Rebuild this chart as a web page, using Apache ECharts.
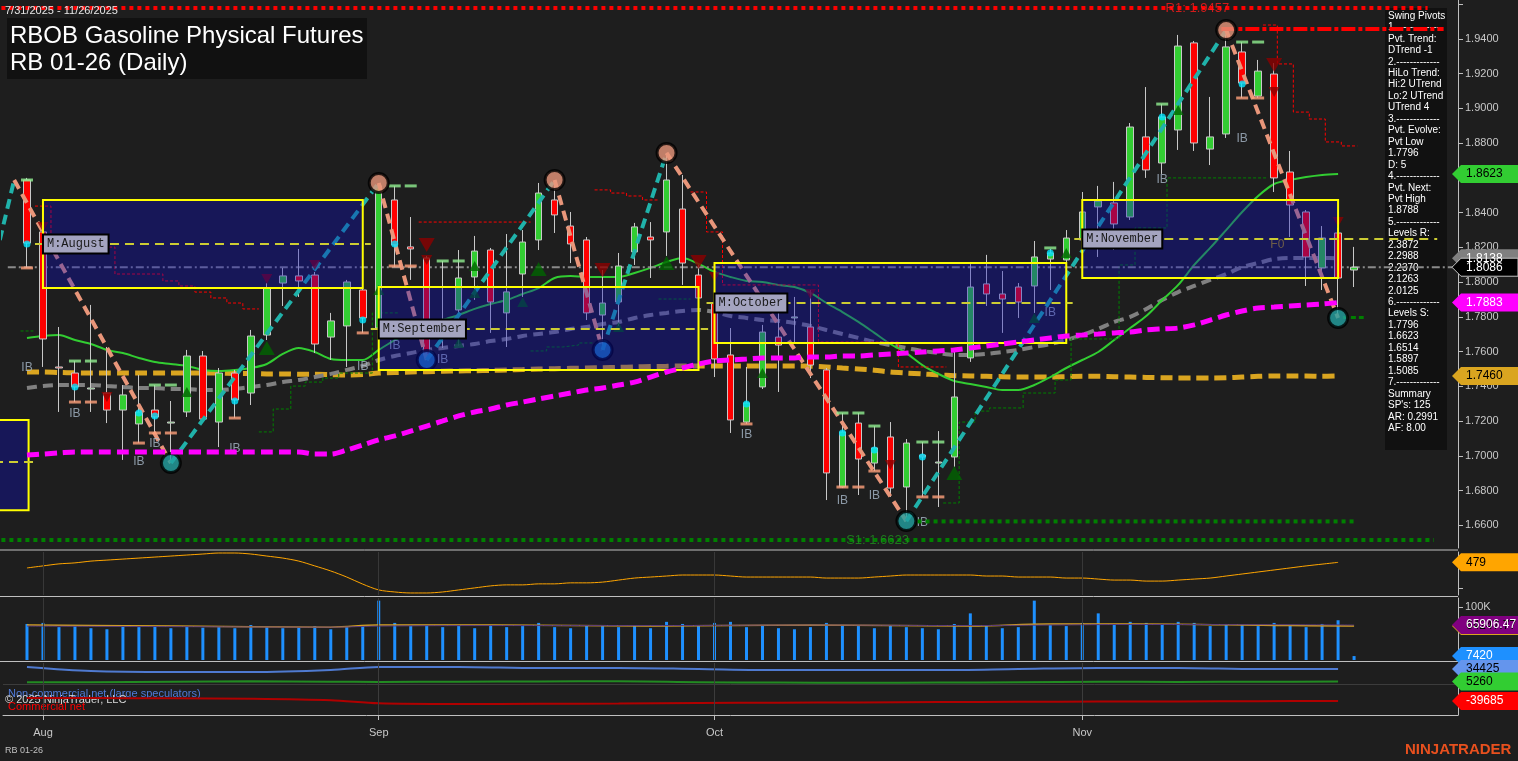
<!DOCTYPE html>
<html><head><meta charset="utf-8">
<script src="https://cdn.jsdelivr.net/npm/echarts@6/dist/echarts.min.js"></script>
<style>html,body{margin:0;padding:0;background:#1e1e1e;}#c{width:1518px;height:761px;}</style>
</head><body><div id="c"></div>
<script>
// ---------------- DATA ----------------
const dates = ['2025-07-31',
'2025-08-01','2025-08-04','2025-08-05','2025-08-06','2025-08-07','2025-08-08','2025-08-11','2025-08-12','2025-08-13','2025-08-14','2025-08-15','2025-08-18','2025-08-19','2025-08-20','2025-08-21','2025-08-22','2025-08-25','2025-08-26','2025-08-27','2025-08-28','2025-08-29',
'2025-09-02','2025-09-03','2025-09-04','2025-09-05','2025-09-08','2025-09-09','2025-09-10','2025-09-11','2025-09-12','2025-09-15','2025-09-16','2025-09-17','2025-09-18','2025-09-19','2025-09-22','2025-09-23','2025-09-24','2025-09-25','2025-09-26','2025-09-29','2025-09-30',
'2025-10-01','2025-10-02','2025-10-03','2025-10-06','2025-10-07','2025-10-08','2025-10-09','2025-10-10','2025-10-13','2025-10-14','2025-10-15','2025-10-16','2025-10-17','2025-10-20','2025-10-21','2025-10-22','2025-10-23','2025-10-24','2025-10-27','2025-10-28','2025-10-29','2025-10-30','2025-10-31',
'2025-11-03','2025-11-04','2025-11-05','2025-11-06','2025-11-07','2025-11-10','2025-11-11','2025-11-12','2025-11-13','2025-11-14','2025-11-17','2025-11-18','2025-11-19','2025-11-20','2025-11-21','2025-11-24','2025-11-25','2025-11-26'];

// [open, close, low, high]
const candles = [
[1.8588,1.8225,1.8082,1.8600],[1.8289,1.7673,1.7512,1.8312],[1.7512,1.7506,1.7253,1.7742],[1.7477,1.7397,1.7310,1.7546],[1.7385,1.7391,1.7253,1.7869],
[1.7362,1.7264,1.7189,1.7627],[1.7264,1.7351,1.6977,1.7408],[1.7184,1.7253,1.7074,1.7466],[1.7264,1.7224,1.7132,1.7408],[1.7189,1.7195,1.6959,1.7316],
[1.7253,1.7575,1.7224,1.7610],[1.7575,1.7212,1.7201,1.7604],[1.7195,1.7477,1.7051,1.7506],[1.7477,1.7322,1.7218,1.7495],[1.7362,1.7690,1.7293,1.7725],
[1.7696,1.7966,1.7667,1.7995],[1.7995,1.8036,1.7863,1.8082],[1.8036,1.8007,1.7915,1.8191],[1.8041,1.7644,1.7592,1.8059],[1.7684,1.7777,1.7552,1.7823],
[1.7748,1.8001,1.7512,1.8013],[1.7955,1.7794,1.7708,1.7966],[1.7736,1.8554,1.7713,1.8571],[1.8473,1.8214,1.8087,1.8554],[1.8203,1.8191,1.8013,1.8375],
[1.8139,1.7581,1.7552,1.8151],[1.7771,1.7736,1.7621,1.8122],[1.7840,1.8024,1.7633,1.8185],[1.8030,1.8179,1.7898,1.8266],[1.8185,1.7886,1.7708,1.8197],
[1.7823,1.7944,1.7627,1.8277],[1.8047,1.8231,1.7915,1.8300],[1.8243,1.8513,1.8185,1.8571],[1.8473,1.8387,1.8283,1.8588],[1.8323,1.8220,1.8110,1.8404],
[1.8243,1.7823,1.7782,1.8260],[1.7811,1.7880,1.7610,1.8070],[1.7886,1.8093,1.7748,1.8168],[1.8174,1.8318,1.8099,1.8341],[1.8260,1.8243,1.8024,1.8346],
[1.8289,1.8588,1.8151,1.8744],[1.8421,1.8110,1.7984,1.8617],[1.8041,1.7909,1.7869,1.8099],[1.7880,1.7558,1.7454,1.7984],[1.7581,1.7207,1.7132,1.7736],
[1.7195,1.7305,1.7184,1.7512],[1.7397,1.7713,1.7385,1.7754],[1.7684,1.7638,1.7368,1.7880],[1.7794,1.7800,1.7650,1.7915],[1.7742,1.7523,1.7448,1.7955],
[1.7495,1.6902,1.6746,1.7506],[1.6821,1.7138,1.6815,1.7247],[1.7189,1.6982,1.6775,1.7247],[1.6959,1.7046,1.6913,1.7172],[1.7109,1.6815,1.6764,1.7195],
[1.6821,1.7074,1.6625,1.7097],[1.7005,1.6994,1.6764,1.7080],[1.6959,1.6965,1.6706,1.7143],[1.6994,1.7339,1.6936,1.7615],[1.7564,1.7972,1.7541,1.8110],
[1.7990,1.7932,1.7863,1.8157],[1.7932,1.7903,1.7708,1.8064],[1.7972,1.7886,1.7794,1.7995],[1.7978,1.8145,1.7823,1.8237],[1.8133,1.8168,1.7955,1.8191],
[1.8128,1.8254,1.8116,1.8300],[1.8243,1.8404,1.8157,1.8519],[1.8433,1.8467,1.8145,1.8554],[1.8456,1.8335,1.8185,1.8577],[1.8375,1.8893,1.8358,1.8916],
[1.8836,1.8646,1.8600,1.9123],[1.8686,1.8951,1.8623,1.9025],[1.8876,1.9359,1.8761,1.9423],[1.9377,1.8801,1.8755,1.9388],[1.8766,1.8836,1.8674,1.9066],
[1.8853,1.9354,1.8830,1.9457],[1.9325,1.9146,1.9060,1.9382],[1.9071,1.9215,1.9060,1.9279],[1.9198,1.8600,1.8519,1.9261],[1.8634,1.8444,1.8260,1.8755],
[1.8404,1.8145,1.7978,1.8415],[1.8082,1.8254,1.7955,1.8323],[1.8283,1.8024,1.7796,1.8312],[1.8070,1.8086,1.7972,1.8203]];

const maGreen = [1.7679,1.7690,1.7696,1.7667,1.7644,1.7610,1.7592,1.7564,1.7540,1.7529,
1.7518,1.7495,1.7489,1.7495,1.7506,1.7529,1.7587,1.7621,1.7598,1.7558,
1.7552,1.7552,1.7610,1.7667,1.7708,1.7742,1.7782,1.7811,1.7846,1.7874,
1.7897,1.7932,1.7966,1.8024,1.8035,1.8030,1.8030,1.8030,1.8053,1.8082,
1.8116,1.8139,1.8105,1.8059,1.8030,1.8007,1.8001,1.7984,1.7972,1.7938,
1.7880,1.7828,1.7771,1.7708,1.7644,1.7592,1.7523,1.7472,1.7431,1.7414,
1.7397,1.7379,1.7379,1.7408,1.7454,1.7506,1.7552,1.7598,1.7667,1.7736,
1.7805,1.7897,1.7984,1.8099,1.8197,1.8300,1.8404,1.8496,1.8565,1.8588,
1.8605,1.8617,1.8623];

const maGold = [1.7483,1.7483,1.7480,1.7478,1.7477,1.7477,1.7477,1.7477,1.7477,1.7477,1.7477,
1.7477,1.7477,1.7475,1.7474,1.7472,1.7472,1.7470,1.7470,1.7468,1.7466,1.7468,
1.7477,1.7480,1.7483,1.7485,1.7487,1.7489,1.7490,1.7492,1.7495,1.7497,1.7500,
1.7502,1.7504,1.7506,1.7508,1.7510,1.7512,1.7514,1.7516,1.7518,1.7518,1.7518,
1.7518,1.7518,1.7518,1.7518,1.7518,1.7516,1.7512,1.7506,1.7500,1.7493,1.7483,
1.7477,1.7472,1.7466,1.7462,1.7460,1.7458,1.7456,1.7454,1.7454,1.7454,1.7456,
1.7458,1.7458,1.7456,1.7454,1.7452,1.7450,1.7449,1.7449,1.7449,1.7450,1.7454,
1.7458,1.7460,1.7460,1.7460,1.7458,1.7460];

const maMagenta = [1.7005,1.7011,1.7017,1.7023,1.7023,1.7023,1.7023,1.7023,1.7023,1.7023,
1.7023,1.7023,1.7023,1.7023,1.7023,1.7023,1.7023,1.7023,1.7011,1.7011,
1.7034,1.7063,1.7092,1.7115,1.7143,1.7172,1.7201,1.7230,1.7253,1.7270,
1.7293,1.7310,1.7328,1.7345,1.7362,1.7379,1.7391,1.7408,1.7425,1.7454,
1.7483,1.7506,1.7529,1.7546,1.7552,1.7558,1.7564,1.7564,1.7564,1.7569,
1.7569,1.7575,1.7575,1.7581,1.7587,1.7592,1.7598,1.7604,1.7610,1.7621,
1.7633,1.7644,1.7656,1.7667,1.7679,1.7690,1.7696,1.7702,1.7708,1.7713,
1.7725,1.7731,1.7736,1.7754,1.7782,1.7811,1.7834,1.7851,1.7857,1.7863,
1.7869,1.7874,1.7883];

const maGrey = [1.7391,1.7402,1.7408,1.7408,1.7408,1.7402,1.7397,1.7391,1.7391,1.7385,
1.7385,1.7379,1.7379,1.7385,1.7397,1.7408,1.7425,1.7437,1.7454,1.7472,
1.7495,1.7518,1.7552,1.7575,1.7592,1.7610,1.7621,1.7633,1.7644,1.7661,
1.7673,1.7690,1.7702,1.7713,1.7731,1.7742,1.7759,1.7771,1.7794,1.7811,
1.7823,1.7834,1.7840,1.7828,1.7805,1.7794,1.7782,1.7777,1.7765,1.7748,
1.7725,1.7702,1.7679,1.7656,1.7638,1.7621,1.7604,1.7592,1.7581,1.7581,
1.7587,1.7598,1.7610,1.7627,1.7644,1.7667,1.7696,1.7731,1.7771,1.7800,
1.7846,1.7897,1.7943,1.7978,1.8013,1.8047,1.8087,1.8110,1.8133,1.8139,
1.8139,1.8139,1.8138];

// monthly boxes (x in slot units: slot = bar index + 1)
const boxNames  = ['', 'M:August', 'M:September', 'M:October', 'M:November'];
const boxFrom   = [-1.5, 2, 23, 44, 67];
const boxTo     = [1.1, 22, 43, 66, 83];
const boxTop    = [1.7207, 1.8473, 1.7972, 1.8110, 1.8473];
const boxBottom = [1.6687, 1.7966, 1.7495, 1.7650, 1.8024];
const boxMid    = [1.6965, 1.8220, 1.7731, 1.7880, 1.8249];
const boxMidEnd = [1.4, 22.5, 43.6, 66.4, 89.2];

// swing pivots [slot, price]
const swingPts = [[-0.7,1.8243],[0.2,1.8588],[10,1.6959],[23,1.8571],[26,1.7552],[34,1.8588],[37,1.7610],[41,1.8744],[56,1.6625],[76,1.9451],[83,1.7794]];
const swingHighs = [[23,1.8571],[34,1.8588],[41,1.8744],[76,1.9451]];
const swingLowsBlue = [[26,1.7552],[37,1.7610]];
const swingLowsTeal = [[10,1.6959],[56,1.6625],[83,1.7794]];

// stepped trailing levels [fromSlot, toSlot, price]
const redSteps = [[1.5,2.5,1.8438],[2.5,6.5,1.8202],[6.5,9.5,1.8047],[9.5,10.5,1.8007],[10.5,11.5,1.7978],[11.5,12.5,1.7943],[12.5,13.5,1.7909],[13.5,14.5,1.7880],[14.5,15.5,1.7846],
[25.5,32.5,1.8346],
[36.5,37.5,1.8531],[37.5,38.5,1.8513],[38.5,39.5,1.8496],[39.5,40.5,1.8473],
[42.5,43.5,1.8519],[43.5,44.5,1.8289],[44.5,50.5,1.7984],[50.5,55.5,1.7656],[55.5,58.5,1.7512],
[78.3,79.2,1.9480],[79.2,80.2,1.9256],[80.2,81.2,1.8979],[81.2,82.2,1.8939],[82.2,83.2,1.8807],[83.2,84.2,1.8784]];
const greenSteps = [[0.6,1.4,1.7719],
[15.5,16.4,1.7138],[16.4,17.5,1.7270],[17.5,18.4,1.7402],[18.4,19.5,1.7425],[19.5,20.5,1.7448],[20.5,22.6,1.7477],[22.6,24.3,1.7823],
[32.5,33.5,1.7604],[33.5,34.5,1.7627],[34.5,35.5,1.7638],[35.5,36.5,1.7650],
[40.5,42.5,1.7903],
[58.3,59.3,1.6729],[59.3,60.3,1.7195],[60.3,61.2,1.7258],[61.2,63.3,1.7276],[63.3,65.3,1.7362],[65.3,66.3,1.7437],[66.3,69.3,1.7673],[69.3,70.3,1.8099],[70.3,72.3,1.8312],[72.3,78.5,1.8600]];

// horizontal levels
const r1Level = 1.9578, swingHighLevel = 1.9457, s1Level = 1.6516, swingLowLevel = 1.6623, pvtLowLevel = 1.7796;

// markers [slot, price]
const triUpSmall = [[23,1.7955],[29,1.8093],[32,1.7886],[28,1.7650],[29,1.7938],[38,1.7742],[11,1.7368],[47,1.7477],[64,1.7794],[66,1.8168],[73,1.8991]];
const triUpBig = [[33,1.8076],[41,1.8110],[16,1.7621],[59,1.6902]];
const triDownSmall = [[6,1.7339],[16,1.8018],[19,1.8099],[2,1.8318],[26,1.8128],[44,1.8030],[50,1.7932],[55,1.6948],[79,1.9095],[83,1.8346]];
const triDownBig = [[26,1.8214],[37,1.8070],[43,1.8116],[79,1.9250]];
const cyanDots = [[1,1.8220],[4,1.7397],[8,1.7247],[9,1.7230],[14,1.7316],[22,1.7782],[24,1.8220],[46,1.7299],[52,1.7132],[54,1.7034],[57,1.6994],[65,1.8168],[72,1.8951],[77,1.9141]];
const hiDashes = [[1,1.8588],[4,1.7546],[5,1.7546],[9,1.7408],[10,1.7408],[24,1.8554],[25,1.8554],[27,1.8122],[28,1.8122],[52,1.7247],[53,1.7247],[54,1.7172],[57,1.7080],[58,1.7080],[65,1.8197],[72,1.9025],[77,1.9382],[78,1.9382]];
const loDashes = [[1,1.8082],[4,1.7310],[5,1.7310],[8,1.7074],[9,1.7132],[10,1.7132],[14,1.7218],[22,1.7708],[24,1.8093],[25,1.8093],[46,1.7184],[52,1.6821],[53,1.6821],[54,1.6913],[57,1.6764],[58,1.6764],[77,1.9060],[78,1.9060]];
const ibLabels = [[1,1.7506],[4,1.7241],[8,1.6965],[9,1.7069],[14,1.7040],[22,1.7512],[24,1.7633],[27,1.7552],[46,1.7120],[52,1.6741],[54,1.6769],[57,1.6614],[72,1.8588],[77,1.8824],[65,1.7823]];
const f0Label = [[79.2,1.8214]];

// price axis ticks
const priceTicks = [1.66,1.68,1.70,1.72,1.74,1.76,1.78,1.80,1.82,1.84,1.86,1.88,1.90,1.92,1.94];

// sub panel 1 (oscillator)
const osc = [457,465,473,477,484,488,492,496,500,504,508,512,516,516,512,504,496,484,465,445,
421,393,370,362,358,358,362,370,378,386,390,390,394,394,398,398,401,409,417,421,
425,429,429,429,425,421,421,421,421,421,417,417,417,421,425,429,429,429,429,429,
425,425,421,421,421,417,417,413,409,409,405,405,409,413,417,425,433,441,449,457,
465,472,479];

// sub panel 2 (volume)
const volume = [68000,70000,62000,64000,60000,58000,66000,62000,64000,60000,
63000,61000,62000,60000,66000,62000,60000,61000,64000,58000,
62000,66000,112000,70000,64000,66000,62000,64000,60000,66000,
62000,64000,70000,62000,60000,66000,64000,62000,66000,60000,
72000,68000,64000,70000,72000,62000,66000,60000,58000,62000,
70000,66000,64000,60000,66000,62000,60000,58000,68000,88000,
64000,60000,62000,112000,66000,64000,70000,88000,66000,72000,
70000,68000,72000,70000,64000,68000,66000,64000,70000,66000,
62000,68000,75000,7420];
const volAvgSlots = [1,10,20,23,30,40,50,60,65,70,80,84];
const volAvgGold = [66000,64000,62000,66000,66000,64000,66000,64000,68000,68000,65000,64247.77];
const volAvgPurple = [64000,63000,62000,64000,65000,65000,66000,65000,66000,67000,66500,65906.47];

// sub panel 3 (COT)
const cotSlots = [1,5,10,15,20,23,28,33,38,43,48,53,58,63,68,73,78,83];
const cotNonComm = [39057,29793,27477,27477,32109,39057,39057,36741,36741,34425,32109,32109,32109,34425,36741,36741,34425,34425];
const cotSmall = [4000,3500,5000,6000,5000,4500,5000,5500,6000,4000,3000,2500,3000,4000,5000,4500,5000,5260];
const cotComm = [-32700,-32700,-33500,-34500,-38000,-45000,-46600,-46000,-45500,-44000,-43500,-43000,-42000,-41500,-41000,-40500,-40000,-39685];

const infoLines = ['Swing Pivots','1.-------------','Pvt. Trend:','DTrend -1','2.-------------','HiLo Trend:','Hi:2 UTrend','Lo:2 UTrend','UTrend 4','3.-------------','Pvt. Evolve:','Pvt Low','1.7796','D: 5','4.-------------','Pvt. Next:','Pvt High','1.8788','5.-------------','Levels R:','2.3872','2.2988','2.2370','2.1263','2.0125','6.-------------','Levels S:','1.7796','1.6623','1.6514','1.5897','1.5085','7.-------------','Summary',"SP's: 125",'AR: 0.2991','AF: 8.00'];

// ---------------- BUILD ----------------
const NSLOT = 91;
const cats = ['_p0'].concat(dates);
while (cats.length < NSLOT) cats.push('_p' + cats.length);
const monthNames = ['Jan','Feb','Mar','Apr','May','Jun','Jul','Aug','Sep','Oct','Nov','Dec'];
const monthStart = {};
for (let k = 1; k < dates.length; k++) {
  if (dates[k].slice(5,7) !== dates[k-1].slice(5,7)) monthStart[k+1] = monthNames[+dates[k].slice(5,7)-1];
}
const padSlots = arr => ['-'].concat(arr);
const FONT = '"Liberation Sans", Arial, sans-serif';

function stepRuns(steps) {
  const runs = []; let cur = null;
  steps.forEach(s => {
    if (cur && Math.abs(cur.end - s[0]) < 0.01) { cur.pts.push([s[0], s[2]], [s[1], s[2]]); cur.end = s[1]; }
    else { cur = {end: s[1], pts: [[s[0], s[2]], [s[1], s[2]]]}; runs.push(cur); }
  });
  return runs.map(r => r.pts);
}

const series = [];
series.push({
  type: 'candlestick', xAxisIndex: 0, yAxisIndex: 0, z: 3, barWidth: 7,
  data: candles.map((c, i) => [i + 1, c[0], c[1], c[2], c[3]]),
  encode: {x: 0, y: [1, 2, 3, 4]},
  itemStyle: {color: '#32cd32', color0: '#ff0000', borderColor: '#c8c8c8', borderColor0: '#c8c8c8', borderWidth: 1}
});
const maLine = (data, color, width, type, z) => ({
  type: 'line', xAxisIndex: 0, yAxisIndex: 0, data: padSlots(data), symbol: 'none', smooth: 0.3, z: z || 3,
  lineStyle: {color: color, width: width, type: type}
});
series.push(maLine(maGold, '#daa520', 5, [12, 6]));
series.push(maLine(maGrey, '#808080', 4, [10, 6]));
series.push(maLine(maGreen, '#32cd32', 2, 'solid'));
stepRuns(redSteps).forEach(pts => series.push({type: 'line', xAxisIndex: 1, yAxisIndex: 0, data: pts, symbol: 'none', z: 3, lineStyle: {color: '#ff0000', width: 1, type: [3, 2]}}));
stepRuns(greenSteps).forEach(pts => series.push({type: 'line', xAxisIndex: 1, yAxisIndex: 0, data: pts, symbol: 'none', z: 3, lineStyle: {color: '#008000', width: 1, type: [3, 2]}}));
series.push({type: 'line', xAxisIndex: 1, yAxisIndex: 0, symbol: 'none', z: 3,
  data: [[-0.2, candles[candles.length-1][1]], [90.5, candles[candles.length-1][1]]],
  lineStyle: {color: '#8a8a8a', width: 2, type: [8, 3, 2, 3]}});
for (let k = 0; k < swingPts.length - 1; k++) {
  const up = swingPts[k+1][1] > swingPts[k][1];
  series.push({type: 'line', xAxisIndex: 1, yAxisIndex: 0, symbol: 'none', z: 4,
    data: [swingPts[k], swingPts[k+1]],
    lineStyle: {color: up ? '#20b2aa' : '#e9967a', width: 4, type: [10, 6]}});
}
const scat = (data, opt) => Object.assign({type: 'scatter', xAxisIndex: 0, yAxisIndex: 0, data: data, z: 4, silent: true}, opt);
series.push(scat(hiDashes, {symbol: 'rect', symbolSize: [12, 3], itemStyle: {color: '#90ee90'}}));
series.push(scat(loDashes, {symbol: 'rect', symbolSize: [12, 3], itemStyle: {color: '#ffa07a'}}));
series.push(scat(triUpSmall, {symbol: 'triangle', symbolSize: [11, 10], itemStyle: {color: '#006400'}}));
series.push(scat(triUpBig, {symbol: 'triangle', symbolSize: [16, 14], itemStyle: {color: '#006400'}}));
series.push(scat(triDownSmall, {symbol: 'triangle', symbolRotate: 180, symbolSize: [11, 10], itemStyle: {color: '#8b0000'}}));
series.push(scat(triDownBig, {symbol: 'triangle', symbolRotate: 180, symbolSize: [16, 14], itemStyle: {color: '#8b0000'}}));
series.push(scat(cyanDots, {symbol: 'circle', symbolSize: 7, itemStyle: {color: '#00e5ff'}}));
series.push(scat(swingHighs, {xAxisIndex: 1, symbol: 'circle', symbolSize: 19, itemStyle: {color: '#e9967a', borderColor: '#000', borderWidth: 3}, z: 5}));
series.push(scat(swingLowsBlue, {xAxisIndex: 1, symbol: 'circle', symbolSize: 19, itemStyle: {color: '#1e88c8', borderColor: '#000', borderWidth: 3}, z: 5}));
series.push(scat(swingLowsTeal, {xAxisIndex: 1, symbol: 'circle', symbolSize: 19, itemStyle: {color: '#22a0a0', borderColor: '#000', borderWidth: 3}, z: 5}));
series.push(scat(ibLabels, {symbol: 'circle', symbolSize: 1, itemStyle: {color: 'rgba(0,0,0,0)'},
  label: {show: true, position: 'inside', formatter: 'IB', color: '#a8b8c8', fontSize: 12, fontFamily: FONT}}));
series.push(scat(f0Label, {xAxisIndex: 1, symbol: 'circle', symbolSize: 1, itemStyle: {color: 'rgba(0,0,0,0)'},
  label: {show: true, position: 'inside', formatter: 'F0', color: '#c8a800', fontSize: 12, fontFamily: FONT}}));
series.push({
  type: 'custom', xAxisIndex: 1, yAxisIndex: 0, z: 6, silent: true, clip: false,
  data: boxFrom.map((f, k) => [f, boxTo[k], boxTop[k], boxBottom[k], boxMid[k], boxMidEnd[k], k]),
  encode: {x: [0, 1], y: [2, 3]},
  renderItem: (params, api) => {
    const k = api.value(6);
    const p1 = api.coord([api.value(0), api.value(2)]);
    const p2 = api.coord([api.value(1), api.value(3)]);
    const m1 = api.coord([api.value(0) - 0.5, api.value(4)]);
    const m2 = api.coord([api.value(5), api.value(4)]);
    const children = [
      {type: 'rect', shape: {x: p1[0], y: p1[1], width: p2[0] - p1[0], height: p2[1] - p1[1]},
       style: {fill: 'rgba(10,10,190,0.36)', stroke: '#ffff00', lineWidth: 2}},
      {type: 'line', shape: {x1: m1[0], y1: m1[1], x2: m2[0], y2: m2[1]},
       style: {stroke: '#cccc33', lineWidth: 2, lineDash: [9, 6]}}
    ];
    if (boxNames[k]) children.push({type: 'text', x: p1[0] + 1, y: m1[1],
      style: {text: boxNames[k], fill: '#1a1a1a', font: '12px "Liberation Mono", "DejaVu Sans Mono", monospace',
        backgroundColor: '#a4a4c0', borderColor: '#000', borderWidth: 2, padding: [3, 3, 2, 3], verticalAlign: 'middle', align: 'left'}});
    return {type: 'group', children: children};
  }
});
series.push(maLine(maMagenta, '#ff00ff', 5, [12, 6], 7));
const hLine = (x1, x2, v, color, width, type, z) => ({type: 'line', xAxisIndex: 1, yAxisIndex: 0, symbol: 'none', z: z || 5,
  data: [[x1, v], [x2, v]], lineStyle: {color: color, width: width, type: type}});
series.push(hLine(-0.6, 88.6, r1Level, '#ff0000', 4, [4, 4]));
series.push(hLine(75.7, 89.6, swingHighLevel, '#ff0000', 4, [14, 3, 4, 3]));
series.push(hLine(-0.6, 89.0, s1Level, '#008000', 4, [4, 4]));
series.push(hLine(56.7, 84.2, swingLowLevel, '#008000', 4, [4, 4]));
series.push(hLine(83.3, 84.6, pvtLowLevel, '#008000', 3, [5, 3]));
series.push(scat([[74.2, r1Level]], {xAxisIndex: 1, symbol: 'circle', symbolSize: 1, itemStyle: {color: 'rgba(0,0,0,0)'}, z: 8,
  label: {show: true, position: 'inside', formatter: 'R1: ' + swingHighLevel.toFixed(4), color: '#ff1a1a', fontSize: 13, fontFamily: FONT}}));
series.push(scat([[54.2, s1Level]], {xAxisIndex: 1, symbol: 'circle', symbolSize: 1, itemStyle: {color: 'rgba(0,0,0,0)'}, z: 8,
  label: {show: true, position: 'inside', formatter: 'S1: ' + swingLowLevel.toFixed(4), color: '#1f8f1f', fontSize: 13, fontFamily: FONT}}));

const monthLines = Object.keys(monthStart).map(s => ({xAxis: +s}));
const gridMark = {symbol: 'none', silent: true, label: {show: false}, lineStyle: {color: '#383838', width: 1, type: 'solid'}, data: monthLines};

series.push({type: 'line', xAxisIndex: 2, yAxisIndex: 1, data: padSlots(osc), symbol: 'none', smooth: 0.3,
  lineStyle: {color: '#ffa500', width: 1}, markLine: gridMark});
series.push({type: 'bar', xAxisIndex: 3, yAxisIndex: 2, data: padSlots(volume), barWidth: 3, itemStyle: {color: '#1e90ff'}, markLine: gridMark});
series.push({type: 'line', xAxisIndex: 3, yAxisIndex: 2, data: volAvgSlots.map((s, k) => [s, volAvgGold[k]]), symbol: 'none', smooth: 0.4, lineStyle: {color: '#daa520', width: 1.5}});
series.push({type: 'line', xAxisIndex: 3, yAxisIndex: 2, data: volAvgSlots.map((s, k) => [s, volAvgPurple[k]]), symbol: 'none', smooth: 0.4, lineStyle: {color: '#5a3a7a', width: 1}});
series.push({type: 'line', xAxisIndex: 4, yAxisIndex: 3, data: cotSlots.map((s, k) => [s, cotNonComm[k]]), symbol: 'none', smooth: 0.3, lineStyle: {color: '#4f7ad0', width: 2},
  markLine: {symbol: 'none', silent: true, label: {show: false}, lineStyle: {color: '#3c3c3c', width: 1, type: 'solid'}, data: monthLines.concat([{yAxis: 0}])}});
series.push({type: 'line', xAxisIndex: 4, yAxisIndex: 3, data: cotSlots.map((s, k) => [s, cotSmall[k]]), symbol: 'none', smooth: 0.3, lineStyle: {color: '#228b22', width: 2}});
series.push({type: 'line', xAxisIndex: 4, yAxisIndex: 3, data: cotSlots.map((s, k) => [s, cotComm[k]]), symbol: 'none', smooth: 0.3, lineStyle: {color: '#b00000', width: 2}});

const axisGrey = '#bfbfbf';
const hiddenCat = g => ({type: 'category', gridIndex: g, data: cats, boundaryGap: true, axisLine: {show: false, onZero: false}, axisTick: {show: false}, axisLabel: {show: false}, splitLine: {show: false}});
const yLine = {show: true, onZero: false, lineStyle: {color: axisGrey}};
const option = {
  backgroundColor: '#1e1e1e', animation: false,
  textStyle: {fontFamily: FONT},
  grid: [
    {left: 3, top: 0, width: 1455, height: 548},
    {left: 3, top: 552, width: 1455, height: 43},
    {left: 3, top: 598, width: 1455, height: 62},
    {left: 3, top: 663, width: 1455, height: 52}
  ],
  xAxis: [
    hiddenCat(0),
    {type: 'value', gridIndex: 0, min: -0.5, max: NSLOT - 0.5, show: false, axisLine: {onZero: false}},
    hiddenCat(1), hiddenCat(2),
    {type: 'category', gridIndex: 3, data: cats, boundaryGap: true,
      axisLine: {show: true, onZero: false, lineStyle: {color: axisGrey}},
      axisTick: {show: true, alignWithLabel: true, interval: (i) => !!monthStart[i], length: 5, lineStyle: {color: axisGrey}},
      axisLabel: {show: true, interval: (i) => !!monthStart[i], formatter: (v, i) => monthStart[i] || '', color: '#c8c8c8', fontSize: 11, margin: 12},
      splitLine: {show: false}}
  ],
  yAxis: [
    {type: 'value', gridIndex: 0, position: 'right', min: 1.6470, max: 1.9624, scale: true,
      axisLine: yLine,
      axisTick: {show: true, customValues: priceTicks.concat([1.96]), length: 5, lineStyle: {color: axisGrey}},
      axisLabel: {show: true, customValues: priceTicks, formatter: v => v.toFixed(4), color: '#c8c8c8', fontSize: 11, margin: 7},
      splitLine: {show: false}},
    {type: 'value', gridIndex: 1, position: 'right', min: 350, max: 520,
      axisLine: yLine, axisTick: {show: true, customValues: [378], length: 5, lineStyle: {color: axisGrey}},
      axisLabel: {show: false}, splitLine: {show: false}},
    {type: 'value', gridIndex: 2, position: 'right', min: 0, max: 117000,
      axisLine: yLine, axisTick: {show: true, customValues: [100000], length: 5, lineStyle: {color: axisGrey}},
      axisLabel: {show: true, customValues: [100000], formatter: () => '100K', color: '#c8c8c8', fontSize: 11, margin: 7}, splitLine: {show: false}},
    {type: 'value', gridIndex: 3, position: 'right', min: -72000, max: 48300,
      axisLine: yLine, axisTick: {show: false}, axisLabel: {show: false}, splitLine: {show: false}}
  ],
  series: series
};

const chart = echarts.init(document.getElementById('c'), null, {renderer: 'canvas', width: 1518, height: 761});
chart.setOption(option);

const g = [];
[550, 596.5, 661.5].forEach(y => g.push({type: 'line', shape: {x1: 0, y1: y, x2: 1458, y2: y}, style: {stroke: axisGrey, lineWidth: 1}, silent: true}));
g.push({type: 'rect', shape: {x: 7, y: 18, width: 360, height: 61}, style: {fill: '#111111'}, silent: true});
g.push({type: 'text', x: 10, y: 36, style: {text: 'RBOB Gasoline Physical Futures', fill: '#ffffff', font: '24px ' + FONT, verticalAlign: 'middle'}});
g.push({type: 'text', x: 10, y: 63, style: {text: 'RB 01-26 (Daily)', fill: '#ffffff', font: '24px ' + FONT, verticalAlign: 'middle'}});
const fmtDate = d => (+d.slice(5,7)) + '/' + (+d.slice(8)) + '/' + d.slice(0,4);
g.push({type: 'text', x: 5, y: 11, z: 10, style: {text: fmtDate(dates[0]) + ' - ' + fmtDate(dates[dates.length-1]), fill: '#e6e6e6', font: '11px ' + FONT, verticalAlign: 'middle'}});
g.push({type: 'rect', shape: {x: 1385, y: 8, width: 62, height: 442}, style: {fill: '#111111'}, silent: true});
infoLines.forEach((t, k) => g.push({type: 'text', x: 1388, y: 16 + k * 11.45, style: {text: t, fill: '#ffffff', font: '10px ' + FONT, verticalAlign: 'middle'}}));
g.push({type: 'text', x: 8, y: 694, style: {text: 'Non-commercial net (large speculators)', fill: '#4f7ad8', font: '11px ' + FONT, verticalAlign: 'middle'}});
g.push({type: 'text', x: 5, y: 700, style: {text: '\u00a9 2025 NinjaTrader, LLC', fill: '#d8d8d8', font: '11px ' + FONT, verticalAlign: 'middle'}});
g.push({type: 'text', x: 8, y: 707, style: {text: 'Commercial net', fill: '#ff0000', font: '11px ' + FONT, verticalAlign: 'middle'}});
g.push({type: 'text', x: 5, y: 751, style: {text: 'RB 01-26', fill: '#c0c0c0', font: '9px ' + FONT, verticalAlign: 'middle'}});
g.push({type: 'text', x: 1405, y: 750, style: {text: 'NINJATRADER', fill: '#e8501e', font: 'bold 15px ' + FONT, verticalAlign: 'middle'}});

const tag = (axis, value, text, fill, color, stroke) => {
  const y = chart.convertToPixel({yAxisIndex: axis}, value);
  g.push({type: 'polygon', shape: {points: [[1452, y], [1461, y - 9], [1518, y - 9], [1518, y + 9], [1461, y + 9]]},
    style: {fill: fill, stroke: stroke || null, lineWidth: 1}, z: 20});
  g.push({type: 'text', x: 1466, y: y, z: 21, style: {text: text, fill: color, font: '12px ' + FONT, verticalAlign: 'middle'}});
};
const last = a => a[a.length - 1];
const lastClose = last(candles)[1];
tag(0, last(maGreen), last(maGreen).toFixed(4), '#32cd32', '#000');
tag(0, last(maGrey), last(maGrey).toFixed(4), '#808080', '#ffffff');
tag(0, lastClose, lastClose.toFixed(4), '#000000', '#ffffff', '#c0c0c0');
tag(0, last(maMagenta), last(maMagenta).toFixed(4), '#ff00ff', '#ffffff');
tag(0, last(maGold), last(maGold).toFixed(4), '#daa520', '#000');
tag(1, last(osc), String(last(osc)), '#ffa500', '#000');
tag(2, last(volAvgGold), last(volAvgGold).toFixed(2), '#daa520', '#000');
tag(2, last(volAvgPurple), last(volAvgPurple).toFixed(2), '#800080', '#ffffff');
tag(2, last(volume), String(last(volume)), '#1e90ff', '#ffffff');
tag(3, last(cotNonComm), String(last(cotNonComm)), '#6495ed', '#000');
tag(3, last(cotSmall), String(last(cotSmall)), '#32cd32', '#000');
tag(3, last(cotComm), String(last(cotComm)), '#ff0000', '#ffffff');
chart.setOption({graphic: g});
</script>
</body></html>
